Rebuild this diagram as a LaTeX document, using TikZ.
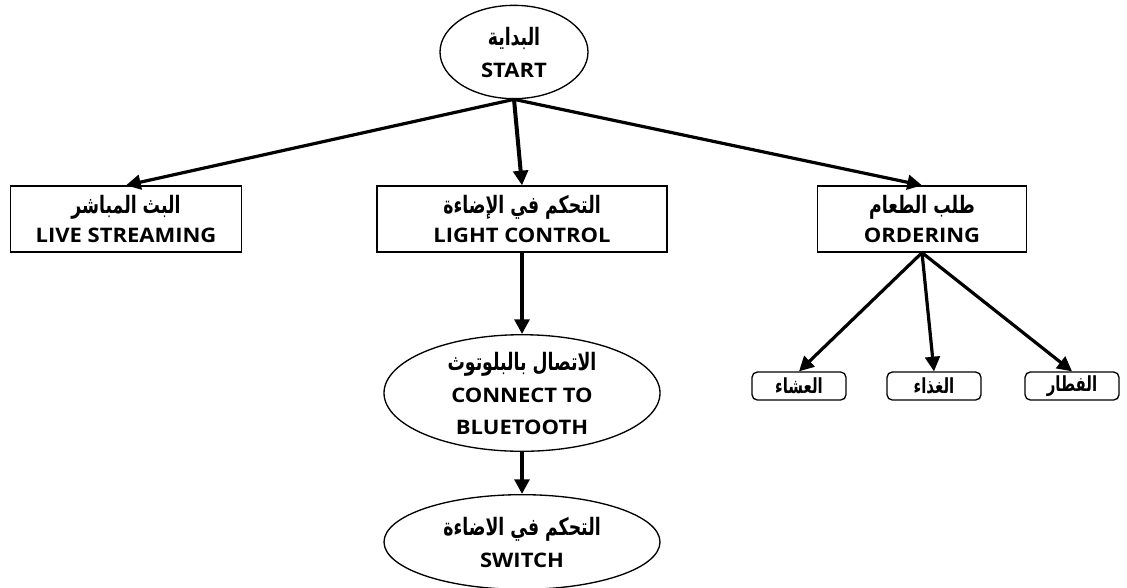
\documentclass[tikz,border=0pt]{standalone}
\usepackage{fontspec}
\setmainfont{Open Sans}[FakeStretch=1.1]
\newfontfamily\arabicfont[Script=Arabic,Scale=1.2,FakeStretch=0.72]{DejaVu Sans}
\TeXXeTstate=1
\usetikzlibrary{shapes.geometric,arrows.meta}
\newcommand{\artext}[1]{{\arabicfont\bfseries\beginR #1\endR}}

\tikzset{
  oval/.style={draw,ellipse,line width=1pt,inner sep=0pt,align=center,
    font=\bfseries\fontsize{15}{24}\selectfont},
  menubox/.style={draw,rectangle,line width=1pt,inner sep=0pt,align=center,
    minimum height=49.5pt,font=\bfseries\fontsize{15}{22}\selectfont},
  dishbox/.style={draw,rectangle,rounded corners=4pt,line width=1pt,inner sep=0pt,
    minimum width=70.5pt,minimum height=21pt,font=\fontsize{13}{14}\selectfont},
  link/.style={line width=2.4pt,-{Triangle[length=11pt,width=11pt]}},
  downlink/.style={link,line width=3pt}
}

\begin{document}
\begin{tikzpicture}[x=0.75pt,y=-0.75pt]
\useasboundingbox [fill=white] (0,0) rectangle (1127,587);
% top level
\draw (514,52) node [oval,minimum width=111pt,minimum height=70pt] (start)
    {\artext{البداية}\\START};
% the three services
\draw
    (126,219) node [menubox,minimum width=173pt] (live)
        {\artext{البث المباشر}\\LIVE STREAMING}
    (522,219) node [menubox,minimum width=217.5pt] (light)
        {\artext{التحكم في الإضاءة}\\LIGHT CONTROL}
    (922,219) node [menubox,minimum width=157pt] (order)
        {\artext{طلب الطعام}\\ORDERING};
% light control branch
\draw
    (522,393) node [oval,minimum width=207pt,minimum height=71pt] (bt)
        {\artext{الاتصال بالبلوتوث}\\CONNECT TO\\BLUETOOTH}
    (522,542) node [oval,minimum width=207pt,minimum height=71pt] (switch)
        {\artext{التحكم في الاضاءة}\\SWITCH};
% meals
\draw
    (799,386) node [dishbox] (dinner) {\artext{العشاء}}
    (934,386) node [dishbox] (lunch) {\artext{الغذاء}}
    (1072,386) node [dishbox] (breakfast) {\artext{الفطار}};
\draw [link] (start.south) to (live.north);
\draw [downlink] (start.south) to (light.north);
\draw [link] (start.south) to (order.north);
\draw [downlink] (light.south) to (bt.north);
\draw [downlink] (bt.south) to (switch.north);
\draw [link] (order.south) to (dinner.north);
\draw [link] (order.south) to (lunch.north);
\draw [link] (order.south) to (breakfast.north);
\end{tikzpicture}
\end{document}
